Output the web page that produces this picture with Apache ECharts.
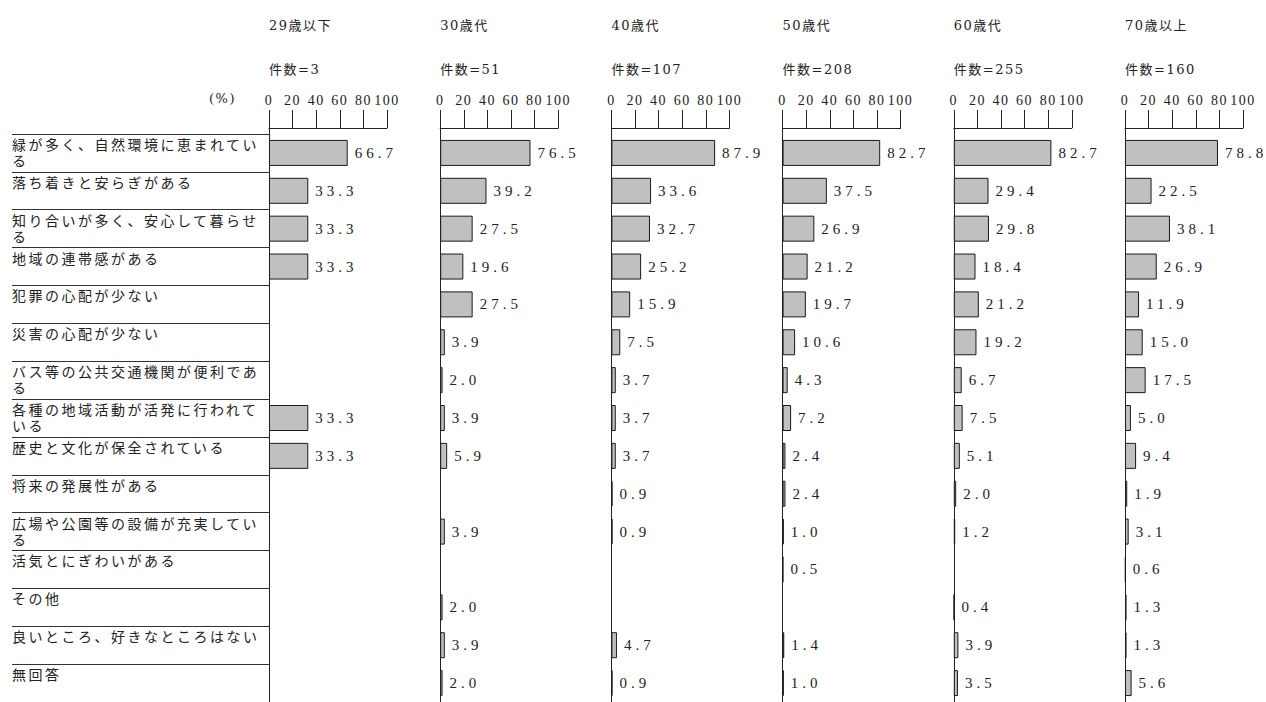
<!DOCTYPE html>
<html><head><meta charset="utf-8">
<script src="https://cdn.jsdelivr.net/npm/echarts@6/dist/echarts.min.js"></script>
<style>
html,body{margin:0;padding:0;background:#fff}
#c{width:1266px;height:702px}
text[style*="Liberation Serif"], text[font-family*="Liberation Serif"]{letter-spacing:4px}
text[style*="Liberation Sans"], text[font-family*="Liberation Sans"]{letter-spacing:2.5px}
text[style*="DejaVu Serif"], text[font-family*="DejaVu Serif"]{letter-spacing:1.5px}
text[style*="Liberation Serif, DejaVu Serif"], text[font-family*="Liberation Serif, DejaVu Serif"]{letter-spacing:2px}
</style></head>
<body><div id="c"></div>
<script>
const categories = [
  '緑が多く、自然環境に恵まれている',
  '落ち着きと安らぎがある',
  '知り合いが多く、安心して暮らせる',
  '地域の連帯感がある',
  '犯罪の心配が少ない',
  '災害の心配が少ない',
  'バス等の公共交通機関が便利である',
  '各種の地域活動が活発に行われている',
  '歴史と文化が保全されている',
  '将来の発展性がある',
  '広場や公園等の設備が充実している',
  '活気とにぎわいがある',
  'その他',
  '良いところ、好きなところはない',
  '無回答'
];
const groups = ['29歳以下', '30歳代', '40歳代', '50歳代', '60歳代', '70歳以上'];
const counts = [3, 51, 107, 208, 255, 160];
const age29 = [66.7, 33.3, 33.3, 33.3, null, null, null, 33.3, 33.3, null, null, null, null, null, null];
const age30 = [76.5, 39.2, 27.5, 19.6, 27.5, 3.9, 2.0, 3.9, 5.9, null, 3.9, null, 2.0, 3.9, 2.0];
const age40 = [87.9, 33.6, 32.7, 25.2, 15.9, 7.5, 3.7, 3.7, 3.7, 0.9, 0.9, null, null, 4.7, 0.9];
const age50 = [82.7, 37.5, 26.9, 21.2, 19.7, 10.6, 4.3, 7.2, 2.4, 2.4, 1.0, 0.5, null, 1.4, 1.0];
const age60 = [82.7, 29.4, 29.8, 18.4, 21.2, 19.2, 6.7, 7.5, 5.1, 2.0, 1.2, null, 0.4, 3.9, 3.5];
const age70 = [78.8, 22.5, 38.1, 26.9, 11.9, 15.0, 17.5, 5.0, 9.4, 1.9, 3.1, 0.6, 1.3, 1.3, 5.6];
const seriesValues = [age29, age30, age40, age50, age60, age70];

const firstAxisX = 269, panelStep = 171.2, panelWidth = 118;
const gridTop = 134, rowH = 38.27;
const ink = '#222';
const numFont = 'Liberation Serif';
const tickFont = 'Liberation Serif, DejaVu Serif';
const jpFont = 'Liberation Sans, Noto Sans CJK JP';
const headFont = 'DejaVu Serif, Noto Sans CJK JP';

function wrapLabel(s) {
  const n = 15;
  const lines = [];
  for (let i = 0; i < s.length; i += n) lines.push(s.slice(i, i + n));
  if (lines.length < 2) lines.push('\u3000');
  return lines.join('\n');
}

const grids = [], xAxes = [], yAxes = [], series = [], titles = [];
groups.forEach((g, k) => {
  const left = firstAxisX + panelStep * k;
  grids.push({ left: left, top: gridTop, width: panelWidth, height: rowH * categories.length });
  xAxes.push({
    type: 'value', gridIndex: k, min: 0, max: 100, interval: 20, position: 'top', offset: 6,
    axisLine: { show: true, lineStyle: { color: ink, width: 1 } },
    axisTick: { show: true, length: 18, lineStyle: { color: ink, width: 1 } },
    axisLabel: { margin: 21, fontSize: 14, color: ink, fontFamily: tickFont },
    splitLine: { show: false }
  });
  yAxes.push({
    type: 'category', gridIndex: k, inverse: true, data: categories,
    axisLine: { show: true, lineStyle: { color: ink, width: 1 } },
    axisTick: k === 0 ? { show: true, length: firstAxisX - 12, lineStyle: { color: '#333', width: 1.2 } } : { show: false },
    axisLabel: k === 0 ? {
      show: true, align: 'left', margin: firstAxisX - 12, fontSize: 14, lineHeight: 16,
      color: ink, fontFamily: jpFont, formatter: wrapLabel
    } : { show: false }
  });
  series.push({
    type: 'bar', xAxisIndex: k, yAxisIndex: k, data: seriesValues[k], barWidth: 26,
    itemStyle: { color: '#c0c0c0', borderColor: '#1a1a1a', borderWidth: 1 },
    label: {
      show: true, position: 'right', distance: 7, fontSize: 15, color: ink, fontFamily: numFont,
      formatter: p => (p.value == null ? '' : Number(p.value).toFixed(1))
    },
    silent: true, animation: false
  });
  titles.push({
    text: g, subtext: '件数=' + counts[k], left: left, top: 19, itemGap: 31, padding: 0,
    textStyle: { fontSize: 13, fontWeight: 'normal', color: ink, fontFamily: headFont },
    subtextStyle: { fontSize: 13, color: ink, fontFamily: headFont }
  });
});
// short connector of the zero line between the offset top axis and the plot area
groups.forEach((g, k) => {
  xAxes.push({
    type: 'value', gridIndex: k, min: 0, max: 100, interval: 100, position: 'top', offset: 0,
    axisLine: { show: false },
    axisTick: { show: true, length: 7, customValues: [0], lineStyle: { color: ink, width: 1 } },
    axisLabel: { show: false },
    splitLine: { show: false }
  });
});
titles.push({ text: '(%)', left: 209, top: 92, padding: 0,
  textStyle: { fontSize: 13, fontWeight: 'normal', color: ink, fontFamily: headFont } });

const chart = echarts.init(document.getElementById('c'), null, { renderer: 'svg' });
chart.setOption({
  backgroundColor: '#fff', animation: false,
  title: titles, grid: grids, xAxis: xAxes, yAxis: yAxes, series: series
});
</script></body></html>
